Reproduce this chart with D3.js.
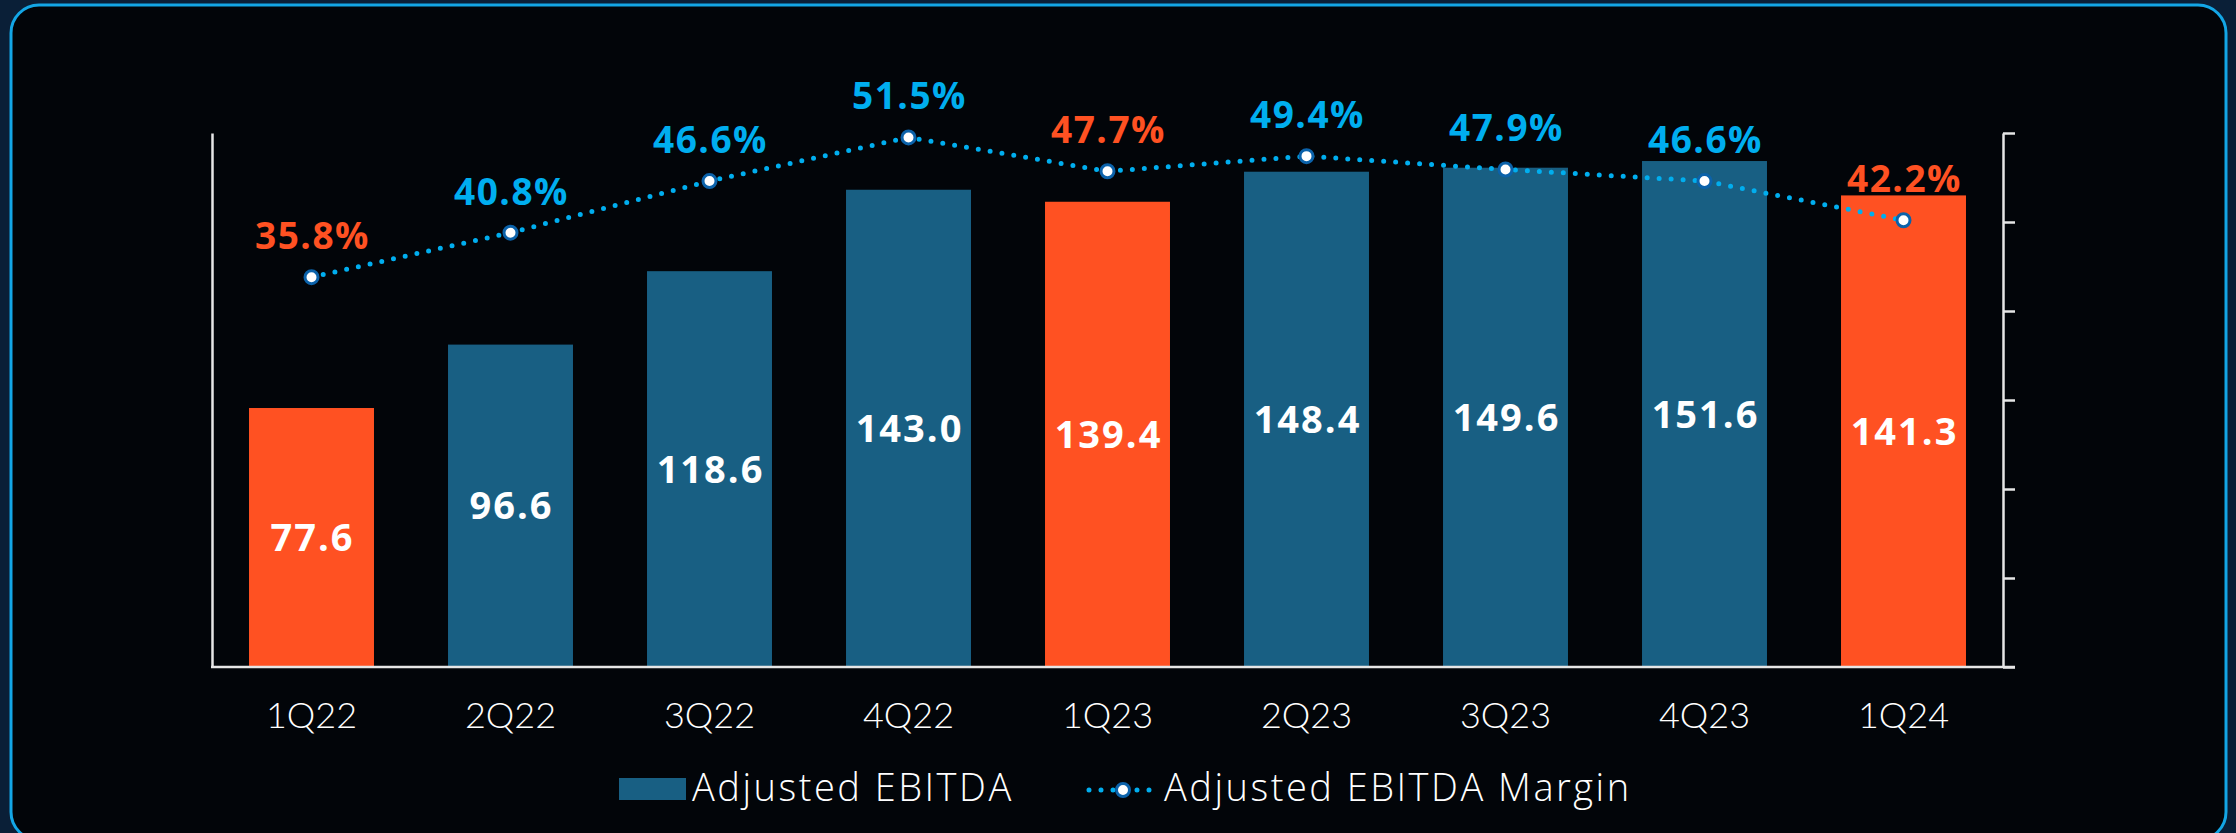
<!DOCTYPE html>
<html>
<head>
<meta charset="utf-8">
<script src="https://cdn.jsdelivr.net/npm/d3@7"></script>
<style>
  html, body { margin: 0; padding: 0; background: #0a1f37; }
  svg { display: block; }
</style>
</head>
<body>
<svg id="chart" width="2236" height="833"></svg>
<script>
// ---- data ----
const categories = ["1Q22","2Q22","3Q22","4Q22","1Q23","2Q23","3Q23","4Q23","1Q24"];
const ebitda = [77.6, 96.6, 118.6, 143.0, 139.4, 148.4, 149.6, 151.6, 141.3];
const margin = [35.8, 40.8, 46.6, 51.5, 47.7, 49.4, 47.9, 46.6, 42.2];
const highlighted = ["1Q22", "1Q23", "1Q24"];
const legendLabels = ["Adjusted EBITDA", "Adjusted EBITDA Margin"];

const ORANGE = "#ff5122";
const BLUEBAR = "#185f83";
const CYAN = "#00aeef";
const MARKER = "#0b62aa";

const svg = d3.select("#chart");
const W = 2236, H = 833;

// background glow + frame
const defs = svg.append("defs");
const rg = defs.append("radialGradient").attr("id","glow").attr("cx","0").attr("cy","0.5").attr("r","0.5");
rg.append("stop").attr("offset","0%").attr("stop-color","#1c3550");
rg.append("stop").attr("offset","100%").attr("stop-color","#0a1f37");
svg.append("rect").attr("width", W).attr("height", H).attr("fill", "#0a1f37");
svg.append("rect").attr("x", -40).attr("y", 300).attr("width", 80).attr("height", 200).attr("fill", "url(#glow)");
svg.append("rect").attr("x", 11).attr("y", 5).attr("width", 2215).attr("height", 835)
  .attr("rx", 28).attr("ry", 28)
  .attr("fill", "#020509").attr("stroke", "#13a6e6").attr("stroke-width", 3);

// ---- scales ----
const x0 = 212, x1 = 2003, yTop = 133, yBot = 667;
const x = d3.scaleBand().domain(categories).range([x0, x1]).paddingInner(0.372).paddingOuter(0.186);
const y = d3.scaleLinear().domain([0, 160]).range([yBot, yTop]);
const y2 = d3.scaleLinear().domain([-8, 52]).range([yBot, yTop]);

const isHi = c => highlighted.includes(c);

// bars
svg.append("g").selectAll("rect").data(categories).join("rect")
  .attr("x", d => x(d))
  .attr("width", x.bandwidth())
  .attr("y", (d,i) => y(ebitda[i]))
  .attr("height", (d,i) => yBot - y(ebitda[i]))
  .attr("fill", d => isHi(d) ? ORANGE : BLUEBAR);

// bar value labels
svg.append("g").selectAll("text").data(categories).join("text")
  .attr("x", d => x(d) + x.bandwidth()/2 + 1)
  .attr("y", (d,i) => (y(ebitda[i]) + yBot)/2)
  .attr("dy", "0.36em")
  .attr("text-anchor", "middle")
  .attr("font-family", "'Open Sans', sans-serif")
  .attr("font-weight", 700)
  .attr("font-size", 38)
  .attr("letter-spacing", 2)
  .attr("fill", "#ffffff")
  .text((d,i) => ebitda[i].toFixed(1));

// axes
const axisColor = "#e6e6e6";
const leftAxis = svg.append("g").attr("transform", `translate(${x0},0)`)
  .call(d3.axisLeft(y).tickValues([]).tickSizeOuter(0));
leftAxis.select(".domain").attr("stroke", axisColor).attr("stroke-width", 2.5);

const rightAxis = svg.append("g").attr("transform", `translate(${x1},0)`)
  .call(d3.axisRight(y2).tickValues(d3.range(-8, 53, 10)).tickSize(12).tickSizeOuter(0).tickFormat(""));
rightAxis.select(".domain").attr("stroke", axisColor).attr("stroke-width", 2.5);
rightAxis.selectAll(".tick line").attr("stroke", axisColor).attr("stroke-width", 2.5);

const bottomAxis = svg.append("g").attr("transform", `translate(0,${yBot})`)
  .call(d3.axisBottom(x).tickSize(0).tickPadding(0));
bottomAxis.select(".domain").remove();
svg.append("line").attr("x1", x0 - 1).attr("x2", x1 + 12).attr("y1", yBot).attr("y2", yBot)
  .attr("stroke", axisColor).attr("stroke-width", 2.5);
bottomAxis.selectAll(".tick text")
  .attr("y", 61)
  .attr("dy", 0)
  .attr("font-family", "Lato, 'Open Sans', sans-serif")
  .attr("font-weight", 300)
  .attr("font-size", 36)
  .attr("fill", "#ffffff");

// margin line (dotted)
const cx = c => x(c) + x.bandwidth()/2;
const line = d3.line().x((d,i) => cx(categories[i])).y(d => y2(d));
svg.append("path").datum(margin)
  .attr("d", line)
  .attr("fill", "none")
  .attr("stroke", CYAN)
  .attr("stroke-width", 5)
  .attr("stroke-linecap", "round")
  .attr("stroke-dasharray", "0 12");

svg.append("g").selectAll("circle").data(margin).join("circle")
  .attr("cx", (d,i) => cx(categories[i]))
  .attr("cy", d => y2(d))
  .attr("r", 6.5)
  .attr("fill", "#ffffff")
  .attr("stroke", MARKER)
  .attr("stroke-width", 3);

svg.append("g").selectAll("text").data(margin).join("text")
  .attr("x", (d,i) => cx(categories[i]) + 1)
  .attr("y", d => y2(d) - 28)
  .attr("text-anchor", "middle")
  .attr("font-family", "'Open Sans', sans-serif")
  .attr("font-weight", 700)
  .attr("font-size", 37)
  .attr("letter-spacing", 1.5)
  .attr("fill", (d,i) => isHi(categories[i]) ? ORANGE : CYAN)
  .text(d => d.toFixed(1) + "%");

// legend
const lg = svg.append("g").attr("font-family", "'Open Sans', sans-serif").attr("font-size", 38).attr("fill", "#ffffff");
lg.append("rect").attr("x", 619).attr("y", 778).attr("width", 67).attr("height", 22).attr("fill", BLUEBAR);
lg.append("text").attr("x", 692).attr("y", 801).attr("font-weight", 300).attr("letter-spacing", 2.5).text(legendLabels[0]);
lg.append("line").attr("x1", 1089).attr("x2", 1152).attr("y1", 790).attr("y2", 790)
  .attr("stroke", CYAN).attr("stroke-width", 5).attr("stroke-linecap", "round").attr("stroke-dasharray", "0 12");
lg.append("circle").attr("cx", 1123).attr("cy", 790).attr("r", 6.5).attr("fill", "#fff").attr("stroke", MARKER).attr("stroke-width", 3);
lg.append("text").attr("x", 1164).attr("y", 801).attr("font-weight", 300).attr("letter-spacing", 2.5).text(legendLabels[1]);
</script>
</body>
</html>
